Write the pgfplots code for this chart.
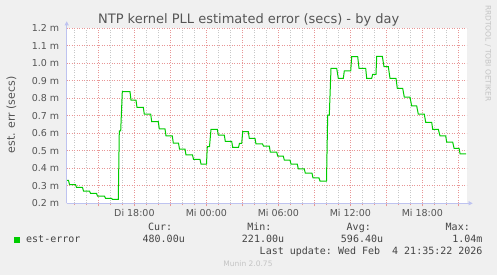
\documentclass[border=0pt]{standalone}
\usepackage{pgfplots}
\pgfplotsset{compat=1.18}
\usepackage{fontspec}
\setmainfont{DejaVu Sans}
\setmonofont{DejaVu Sans Mono}
\usetikzlibrary{arrows.meta}
\definecolor{bg}{HTML}{F0F0F0}
\definecolor{txt}{HTML}{555555}
\definecolor{legtxt}{HTML}{444444}
\definecolor{lineg}{HTML}{00CC00}
\definecolor{mgrid}{RGB}{232,150,150}
\definecolor{ngrid}{RGB}{200,200,200}
\definecolor{axcol}{RGB}{190,195,240}
\definecolor{faint}{HTML}{C4C4C4}
\begin{document}
\begin{tikzpicture}[x=1pt,y=1pt]
\fill[bg] (-66.7,-71.7) rectangle (430.3,203.3);
\fill[white] (0,0) rectangle (400,175);
\begin{axis}[
  at={(0pt,0pt)}, anchor=south west,
  scale only axis, width=400pt, height=175pt,
  xmin=12.358, xmax=45.692, ymin=0.2, ymax=1.2,
  axis x line=bottom, axis y line=left,
  axis line style={draw=none},
  xtick={15,18,21,24,27,30,33,36,39,42,45},
  xticklabels={,Di 18:00,,Mi 00:00,,Mi 06:00,,Mi 12:00,,Mi 18:00,},
  minor xtick={13,14,16,17,19,20,22,23,25,26,28,29,31,32,34,35,37,38,40,41,43,44},
  ytick={0.2,0.3,0.4,0.5,0.6,0.7,0.8,0.9,1.0,1.1,1.2},
  yticklabels={0.2 m,0.3 m,0.4 m,0.5 m,0.6 m,0.7 m,0.8 m,0.9 m,1.0 m,1.1 m,1.2 m},
  xmajorgrids, xminorgrids, ymajorgrids,
  major grid style={color=mgrid, line width=0.7pt, dash pattern=on 1pt off 1.5pt},
  minor grid style={color=ngrid, line width=0.7pt, dash pattern=on 1pt off 1.5pt},
  tick align=outside,
  major tick length=3pt, minor tick length=2pt,
  xtick style={color=mgrid, line width=0.7pt},
  minor tick style={color=ngrid, line width=0.7pt},
  ytick style={draw=none},
  ticklabel style={font=\fontsize{9.5}{11}\selectfont, text=txt},
  xticklabel shift=-1pt,
  yticklabel shift=1pt,
  clip=false,
]
\addplot[color=lineg, line width=1pt] coordinates {
(12.358,0.331) (12.508,0.331) (12.592,0.307) (13.092,0.307)
(13.175,0.291) (13.675,0.291) (13.758,0.270) (14.258,0.270)
(14.342,0.257) (14.842,0.257) (14.925,0.241) (15.508,0.241)
(15.592,0.228) (16.092,0.228) (16.175,0.222) (16.658,0.222)
(16.742,0.614) (16.858,0.614) (16.992,0.838) (17.633,0.838)
(17.717,0.789) (18.133,0.789) (18.217,0.748) (18.742,0.748)
(18.825,0.709) (19.358,0.709) (19.442,0.666) (19.992,0.666)
(20.075,0.625) (20.550,0.625) (20.633,0.585) (21.158,0.585)
(21.242,0.544) (21.675,0.544) (21.758,0.510) (22.217,0.510)
(22.300,0.476) (22.842,0.476) (22.925,0.451) (23.467,0.451)
(23.550,0.424) (24.008,0.424) (24.075,0.524) (24.258,0.524)
(24.383,0.623) (24.908,0.623) (24.992,0.589) (25.492,0.589)
(25.575,0.554) (26.108,0.554) (26.192,0.519) (26.675,0.519)
(26.758,0.543) (26.942,0.543) (27.025,0.609) (27.492,0.609)
(27.575,0.571) (28.050,0.571) (28.133,0.539) (28.675,0.539)
(28.758,0.527) (29.242,0.527) (29.325,0.493) (29.858,0.493)
(29.942,0.470) (30.408,0.470) (30.492,0.447) (30.967,0.447)
(31.050,0.424) (31.575,0.424) (31.658,0.396) (32.158,0.396)
(32.242,0.372) (32.800,0.372) (32.883,0.345) (33.383,0.345)
(33.467,0.327) (34.008,0.327) (34.108,0.704) (34.242,0.704)
(34.383,0.971) (34.858,0.971) (34.992,0.914) (35.408,0.914)
(35.492,0.956) (36.025,0.956) (36.108,1.038) (36.608,1.038)
(36.717,0.971) (37.275,0.971) (37.358,0.914) (37.775,0.914)
(37.858,0.937) (38.133,0.937) (38.192,1.040) (38.658,1.040)
(38.800,0.981) (39.158,0.981) (39.300,0.914) (39.800,0.914)
(39.908,0.857) (40.358,0.857) (40.492,0.806) (40.967,0.806)
(41.108,0.756) (41.525,0.756) (41.658,0.709) (42.158,0.709)
(42.275,0.663) (42.775,0.663) (42.858,0.623) (43.325,0.623)
(43.467,0.585) (43.942,0.585) (44.025,0.549) (44.525,0.549)
(44.642,0.514) (45.058,0.514) (45.142,0.482) (45.642,0.482)
};
\end{axis}
\draw[axcol, line width=0.7pt, -{Triangle[length=4pt,width=4pt]}] (0,0) -- (406,0);
\draw[axcol, line width=0.7pt, -{Triangle[length=4pt,width=4pt]}] (0,0) -- (0,182);
\node[text=txt, font=\fontsize{13}{15}\selectfont] at (182,183.3) {NTP kernel PLL estimated error (secs) - by day};
\node[text=txt, font=\fontsize{11}{13}\selectfont, rotate=90] at (-55.2,88.3) {est. err (secs)};
\node[text=faint, font=\fontsize{7.5}{9}\selectfont, rotate=-90] at (421.3,150) {RRDTOOL / TOBI OETIKER};
\fill[lineg] (-52.7,-39.7) rectangle (-46.7,-33.7);
\begin{scope}[every node/.style={text=legtxt, font=\ttfamily\fontsize{10}{12}\selectfont, inner sep=0pt}]
\node[anchor=mid west] at (-40.7,-36.7) {est-error};
\node[anchor=mid east] at (105.6,-24) {Cur:};
\node[anchor=mid east] at (118.3,-36.7) {480.00u};
\node[anchor=mid east] at (205,-24) {Min:};
\node[anchor=mid east] at (217.6,-36.7) {221.00u};
\node[anchor=mid east] at (304.3,-24) {Avg:};
\node[anchor=mid east] at (316.6,-36.7) {596.40u};
\node[anchor=mid east] at (403.3,-24) {Max:};
\node[anchor=mid east] at (416,-36.7) {1.04m};
\node[anchor=mid east] at (416,-48.4) {Last update: Wed Feb\ \ 4 21:35:22 2026};
\end{scope}
\node[text=faint, font=\fontsize{7.5}{9}\selectfont] at (181.3,-60.7) {Munin 2.0.75};
\end{tikzpicture}
\end{document}
